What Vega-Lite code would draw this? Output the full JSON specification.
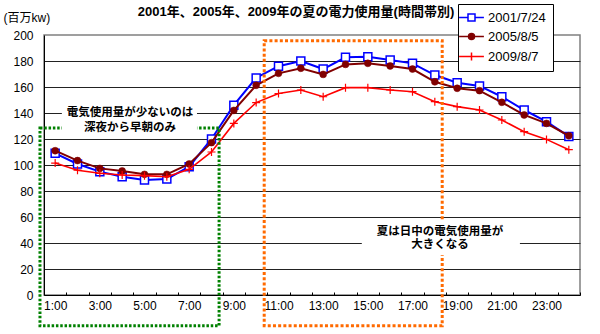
{
  "$schema": "https://vega.github.io/schema/vega-lite/v6.json",
  "width": 536,
  "height": 260,
  "autosize": "none",
  "padding": {"left": 44, "top": 35, "right": 20, "bottom": 39},
  "background": "white",
  "title": {
    "text": "2001年、2005年、2009年の夏の電力使用量(時間帯別)",
    "anchor": "middle",
    "frame": "group",
    "font": "Liberation Sans, Noto Sans CJK JP",
    "fontSize": 13,
    "fontWeight": "bold",
    "color": "black",
    "baseline": "alphabetic",
    "offset": 0,
    "dx": -16,
    "dy": 25
  },
  "datasets": {
    "power": [
      {"hour": 1, "series": "2001/7/24", "value": 109},
      {"hour": 2, "series": "2001/7/24", "value": 100.8},
      {"hour": 3, "series": "2001/7/24", "value": 94.9},
      {"hour": 4, "series": "2001/7/24", "value": 91},
      {"hour": 5, "series": "2001/7/24", "value": 88.5},
      {"hour": 6, "series": "2001/7/24", "value": 89.2},
      {"hour": 7, "series": "2001/7/24", "value": 98.7},
      {"hour": 8, "series": "2001/7/24", "value": 120},
      {"hour": 9, "series": "2001/7/24", "value": 146},
      {"hour": 10, "series": "2001/7/24", "value": 167},
      {"hour": 11, "series": "2001/7/24", "value": 176},
      {"hour": 12, "series": "2001/7/24", "value": 180},
      {"hour": 13, "series": "2001/7/24", "value": 173.8},
      {"hour": 14, "series": "2001/7/24", "value": 182.8},
      {"hour": 15, "series": "2001/7/24", "value": 183.3},
      {"hour": 16, "series": "2001/7/24", "value": 180.8},
      {"hour": 17, "series": "2001/7/24", "value": 178.2},
      {"hour": 18, "series": "2001/7/24", "value": 169.2},
      {"hour": 19, "series": "2001/7/24", "value": 163.3},
      {"hour": 20, "series": "2001/7/24", "value": 160.8},
      {"hour": 21, "series": "2001/7/24", "value": 152.5},
      {"hour": 22, "series": "2001/7/24", "value": 142.3},
      {"hour": 23, "series": "2001/7/24", "value": 133.3},
      {"hour": 24, "series": "2001/7/24", "value": 122},
      {"hour": 1, "series": "2005/8/5", "value": 111},
      {"hour": 2, "series": "2005/8/5", "value": 103.4},
      {"hour": 3, "series": "2005/8/5", "value": 97.4},
      {"hour": 4, "series": "2005/8/5", "value": 95.4},
      {"hour": 5, "series": "2005/8/5", "value": 92.8},
      {"hour": 6, "series": "2005/8/5", "value": 92.8},
      {"hour": 7, "series": "2005/8/5", "value": 100.8},
      {"hour": 8, "series": "2005/8/5", "value": 117.2},
      {"hour": 9, "series": "2005/8/5", "value": 142},
      {"hour": 10, "series": "2005/8/5", "value": 161.3},
      {"hour": 11, "series": "2005/8/5", "value": 170.5},
      {"hour": 12, "series": "2005/8/5", "value": 174.4},
      {"hour": 13, "series": "2005/8/5", "value": 169.7},
      {"hour": 14, "series": "2005/8/5", "value": 177.4},
      {"hour": 15, "series": "2005/8/5", "value": 178.2},
      {"hour": 16, "series": "2005/8/5", "value": 176.2},
      {"hour": 17, "series": "2005/8/5", "value": 173.8},
      {"hour": 18, "series": "2005/8/5", "value": 164},
      {"hour": 19, "series": "2005/8/5", "value": 159},
      {"hour": 20, "series": "2005/8/5", "value": 157.2},
      {"hour": 21, "series": "2005/8/5", "value": 148.2},
      {"hour": 22, "series": "2005/8/5", "value": 138.5},
      {"hour": 23, "series": "2005/8/5", "value": 132},
      {"hour": 24, "series": "2005/8/5", "value": 122.5},
      {"hour": 1, "series": "2009/8/7", "value": 101.5},
      {"hour": 2, "series": "2009/8/7", "value": 96},
      {"hour": 3, "series": "2009/8/7", "value": 93.6},
      {"hour": 4, "series": "2009/8/7", "value": 92.3},
      {"hour": 5, "series": "2009/8/7", "value": 91.8},
      {"hour": 6, "series": "2009/8/7", "value": 91},
      {"hour": 7, "series": "2009/8/7", "value": 96.7},
      {"hour": 8, "series": "2009/8/7", "value": 110},
      {"hour": 9, "series": "2009/8/7", "value": 132},
      {"hour": 10, "series": "2009/8/7", "value": 148},
      {"hour": 11, "series": "2009/8/7", "value": 155},
      {"hour": 12, "series": "2009/8/7", "value": 157.7},
      {"hour": 13, "series": "2009/8/7", "value": 152.5},
      {"hour": 14, "series": "2009/8/7", "value": 159.5},
      {"hour": 15, "series": "2009/8/7", "value": 159.5},
      {"hour": 16, "series": "2009/8/7", "value": 157.7},
      {"hour": 17, "series": "2009/8/7", "value": 156.4},
      {"hour": 18, "series": "2009/8/7", "value": 148.7},
      {"hour": 19, "series": "2009/8/7", "value": 144.9},
      {"hour": 20, "series": "2009/8/7", "value": 142.3},
      {"hour": 21, "series": "2009/8/7", "value": 134.6},
      {"hour": 22, "series": "2009/8/7", "value": 125.6},
      {"hour": 23, "series": "2009/8/7", "value": 119.7},
      {"hour": 24, "series": "2009/8/7", "value": 111.8}
    ],
    "greenBox": [{"x": 0.32, "x2": 8.34, "y": 128.5, "y2": -23.6}],
    "orangeBox": [{"x": 10.36, "x2": 18.33, "y": 195.6, "y2": -23.6}],
    "labelBoxes": [
      {"x": 1.3, "x2": 7.35, "y": 124, "y2": 147},
      {"x": 14.73, "x2": 21.81, "y": 30.8, "y2": 57.7}
    ],
    "notes": [
      {"x": 4.35, "y": 139.8, "text": "電気使用量が少ないのは"},
      {"x": 4.35, "y": 128.2, "text": "深夜から早朝のみ"},
      {"x": 18.23, "y": 48.7, "text": "夏は日中の電気使用量が"},
      {"x": 18.23, "y": 38.5, "text": "大きくなる"}
    ]
  },
  "encoding": {
    "x": {
      "field": "hour",
      "type": "quantitative",
      "scale": {"domain": [0.5, 24.5], "nice": false, "zero": false},
      "axis": {
        "title": null,
        "grid": false,
        "values": [0.5, 1, 1.5, 2, 2.5, 3, 3.5, 4, 4.5, 5, 5.5, 6, 6.5, 7, 7.5, 8, 8.5, 9, 9.5, 10, 10.5, 11, 11.5, 12, 12.5, 13, 13.5, 14, 14.5, 15, 15.5, 16, 16.5, 17, 17.5, 18, 18.5, 19, 19.5, 20, 20.5, 21, 21.5, 22, 22.5, 23, 23.5, 24, 24.5],
        "labelExpr": "datum.value % 2 === 1 ? datum.value + ':00' : ''",
        "labelOverlap": false,
        "labelFlush": false,
        "tickOpacity": {"condition": {"test": "datum.value % 1 === 0", "value": 0}, "value": 1},
        "tickSize": -3,
        "tickColor": "black",
        "domainColor": "black",
        "labelFont": "Liberation Sans",
        "labelFontSize": 12,
        "labelColor": "black",
        "labelPadding": 8
      }
    },
    "y": {
      "field": "value",
      "type": "quantitative",
      "scale": {"domain": [0, 200], "nice": false},
      "axis": {
        "title": "(百万kw)",
        "titleAngle": 0,
        "titleAlign": "left",
        "titleBaseline": "middle",
        "titleX": -41,
        "titleY": -18,
        "titleFont": "Liberation Sans, Noto Sans CJK JP",
        "titleFontSize": 12,
        "titleFontWeight": "normal",
        "titleColor": "black",
        "values": [0, 20, 40, 60, 80, 100, 120, 140, 160, 180, 200],
        "grid": true,
        "gridColor": "#222222",
        "gridOpacity": {"condition": {"test": "datum.value === 0 || datum.value === 200", "value": 0}, "value": 1},
        "ticks": false,
        "domainColor": "black",
        "labelFont": "Liberation Sans",
        "labelFontSize": 12,
        "labelColor": "black",
        "labelPadding": 11
      }
    }
  },
  "layer": [
    {
      "data": {"name": "power"},
      "transform": [{"filter": "datum.series === '2001/7/24'"}],
      "layer": [
        {
          "mark": {"type": "line", "strokeWidth": 2},
          "encoding": {
            "color": {
              "field": "series",
              "type": "nominal",
              "scale": {"domain": ["2001/7/24", "2005/8/5", "2009/8/7"], "range": ["#0000FF", "#800000", "#FF0000"]},
              "legend": {
                "title": null,
                "orient": "none",
                "legendX": 414,
                "legendY": -31,
                "padding": 7,
                "strokeColor": "black",
                "fillColor": "white",
                "symbolSize": 64,
                "symbolStrokeWidth": 1.5,
                "labelOffset": 10,
                "rowPadding": 5,
                "labelFont": "Liberation Sans",
                "labelFontSize": 13,
                "labelColor": "black",
                "labelExpr": "datum.label + '\u00a0\u00a0\u00a0\u00a0'",
                "encode": {
                  "symbols": {
                    "update": {
                      "shape": {"signal": "datum.value === '2001/7/24' ? 'M-3.1,0H-0.875M0.875,0H3.1M-0.875,-0.875H0.875V0.875H-0.875Z' : datum.value === '2005/8/5' ? 'M-3.1,0H3.1M-0.75,0A0.75,0.75,0,1,1,0.75,0A0.75,0.75,0,1,1,-0.75,0Z' : 'M-3.1,0H3.1M0,-1V1'"},
                      "fill": {"signal": "datum.value === '2001/7/24' ? 'white' : datum.value === '2005/8/5' ? '#800000' : 'transparent'"}
                    }
                  }
                }
              }
            }
          }
        },
        {
          "mark": {"type": "point", "shape": "square", "size": 64, "filled": true, "fill": "white", "stroke": "#0000FF", "strokeWidth": 1.5, "opacity": 1}
        }
      ]
    },
    {
      "data": {"name": "power"},
      "transform": [{"filter": "datum.series === '2005/8/5'"}],
      "layer": [
        {
          "mark": {"type": "line", "strokeWidth": 2},
          "encoding": {"color": {"field": "series", "type": "nominal"}}
        },
        {
          "mark": {"type": "point", "shape": "circle", "size": 48, "filled": true, "fill": "#800000", "stroke": "#800000", "strokeWidth": 0.5, "opacity": 1}
        }
      ]
    },
    {
      "data": {"name": "power"},
      "transform": [{"filter": "datum.series === '2009/8/7'"}],
      "layer": [
        {
          "mark": {"type": "line", "strokeWidth": 1.6},
          "encoding": {"color": {"field": "series", "type": "nominal"}}
        },
        {
          "mark": {"type": "point", "shape": "M-1,0H1M0,-1V1", "size": 64, "filled": false, "stroke": "#FF0000", "strokeWidth": 1.2, "opacity": 1}
        }
      ]
    },
    {
      "data": {"name": "greenBox"},
      "mark": {"type": "rect", "fill": "transparent", "stroke": "#008000", "strokeWidth": 3, "strokeDash": [2.5, 1.8]},
      "encoding": {
        "x": {"field": "x", "type": "quantitative"},
        "x2": {"field": "x2"},
        "y": {"field": "y", "type": "quantitative"},
        "y2": {"field": "y2"}
      }
    },
    {
      "data": {"name": "orangeBox"},
      "mark": {"type": "rect", "fill": "transparent", "stroke": "#FF6A00", "strokeWidth": 3, "strokeDash": [3, 2.2]},
      "encoding": {
        "x": {"field": "x", "type": "quantitative"},
        "x2": {"field": "x2"},
        "y": {"field": "y", "type": "quantitative"},
        "y2": {"field": "y2"}
      }
    },
    {
      "data": {"name": "labelBoxes"},
      "mark": {"type": "rect", "fill": "white", "strokeWidth": 0},
      "encoding": {
        "x": {"field": "x", "type": "quantitative"},
        "x2": {"field": "x2"},
        "y": {"field": "y", "type": "quantitative"},
        "y2": {"field": "y2"}
      }
    },
    {
      "data": {"name": "notes"},
      "mark": {"type": "text", "font": "Noto Sans CJK JP", "fontSize": 11.5, "fontWeight": "bold", "color": "black", "align": "center", "baseline": "middle"},
      "encoding": {
        "x": {"field": "x", "type": "quantitative"},
        "y": {"field": "y", "type": "quantitative"},
        "text": {"field": "text"}
      }
    }
  ],
  "config": {
    "view": {"stroke": "#808080", "strokeWidth": 1.5},
    "legend": {"symbolLimit": 0}
  }
}
